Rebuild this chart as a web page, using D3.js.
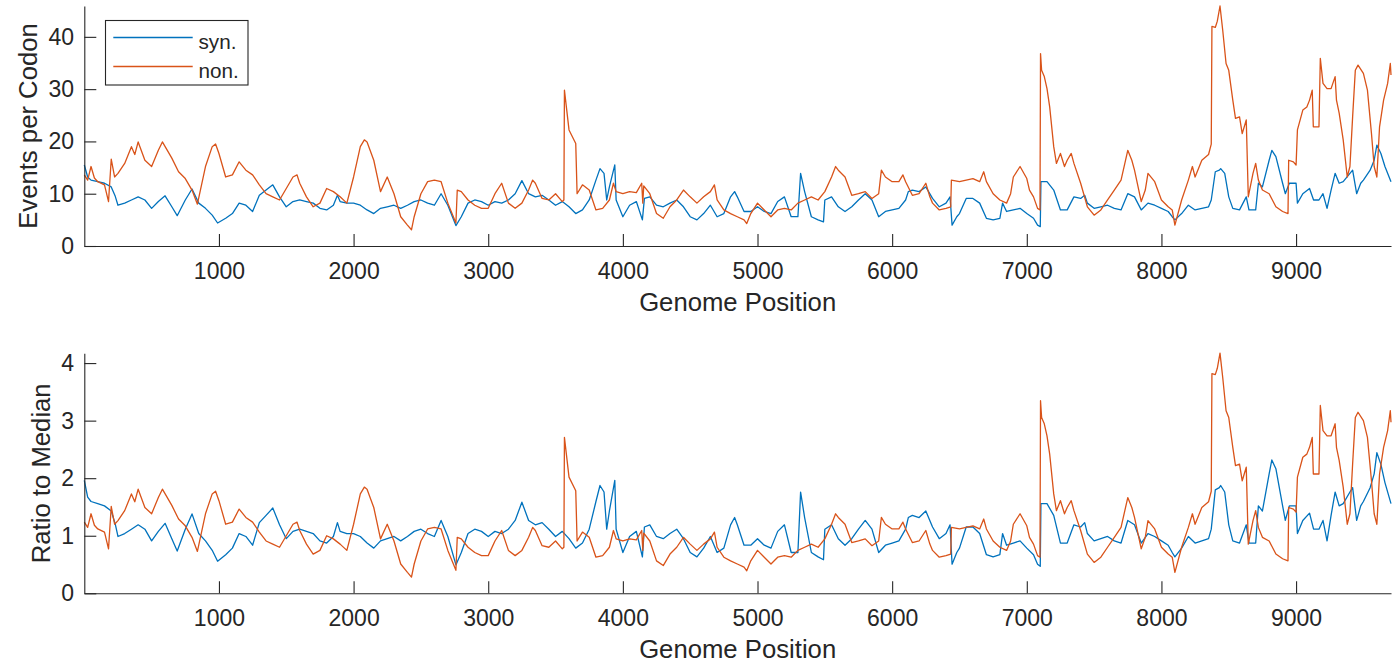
<!DOCTYPE html>
<html><head><meta charset="utf-8">
<script src="https://cdn.jsdelivr.net/npm/d3@7"></script>
<style>
body{margin:0;background:#fff;}
svg text{font-family:"Liberation Sans",Arial,Helvetica,sans-serif;fill:#262626;}
</style></head><body>
<svg id="chart" width="1400" height="671"></svg>
<script>
// [genome position, events per codon]
const synPoints = [[0,15.5],[25,13.2],[50,12.6],[100,12.3],[150,12.0],[200,11.3],[230,9.5],[250,7.8],[300,8.2],[350,8.8],[400,9.4],[450,8.8],[500,7.2],[550,8.5],[600,9.6],[650,7.5],[690,5.8],[750,8.8],[800,10.9],[850,8.2],[900,7.2],[950,5.9],[990,4.4],[1050,5.3],[1100,6.2],[1150,8.2],[1200,7.8],[1250,6.6],[1300,9.7],[1350,10.7],[1400,11.7],[1450,9.4],[1500,7.5],[1550,8.5],[1600,8.8],[1650,8.5],[1700,8.2],[1750,7.2],[1800,6.9],[1850,7.8],[1880,9.7],[1900,8.5],[1950,8.2],[2000,8.2],[2050,7.8],[2100,6.9],[2150,6.2],[2200,7.2],[2250,7.5],[2300,7.8],[2350,7.2],[2400,7.8],[2450,8.5],[2500,8.8],[2550,8.2],[2600,7.8],[2650,10.0],[2700,7.8],[2760,3.9],[2800,5.6],[2850,8.2],[2900,8.8],[2950,8.5],[3000,7.8],[3050,8.5],[3100,8.2],[3150,8.8],[3200,10.0],[3250,12.5],[3300,10.0],[3350,9.4],[3400,9.7],[3450,8.8],[3500,7.8],[3550,8.5],[3600,7.5],[3650,6.2],[3700,6.9],[3750,8.8],[3800,12.6],[3830,14.8],[3860,13.9],[3880,8.8],[3900,11.3],[3940,15.5],[3950,8.8],[4000,5.6],[4050,7.8],[4100,8.5],[4145,5.0],[4160,9.1],[4200,9.4],[4250,7.8],[4300,7.5],[4350,8.2],[4400,8.8],[4450,7.5],[4500,5.6],[4550,5.0],[4600,6.2],[4650,7.8],[4700,5.6],[4750,6.2],[4800,9.4],[4830,10.4],[4850,9.4],[4900,6.6],[4950,6.6],[5000,7.5],[5050,6.6],[5100,6.2],[5150,8.5],[5200,9.4],[5250,5.6],[5300,5.6],[5320,13.9],[5350,10.4],[5400,5.6],[5450,5.0],[5490,4.6],[5500,8.8],[5550,9.4],[5600,7.5],[5650,6.6],[5700,7.5],[5750,8.8],[5800,10.0],[5850,8.8],[5900,5.6],[5950,6.6],[6000,6.9],[6050,7.2],[6100,8.8],[6120,10.4],[6150,10.7],[6200,10.4],[6250,11.3],[6300,9.1],[6350,7.5],[6400,8.2],[6430,9.4],[6445,4.0],[6480,5.6],[6500,6.2],[6550,9.1],[6600,9.1],[6650,8.2],[6700,5.3],[6750,5.0],[6800,5.3],[6820,8.2],[6850,6.6],[6900,6.9],[6950,7.2],[7000,6.2],[7050,5.3],[7080,4.0],[7100,3.7],[7105,12.3],[7150,12.3],[7200,10.7],[7250,6.9],[7300,6.9],[7350,9.4],[7400,9.1],[7430,9.7],[7450,8.2],[7500,7.2],[7550,7.5],[7600,7.8],[7650,7.2],[7700,6.9],[7750,10.0],[7800,9.4],[7850,6.9],[7900,8.2],[7950,7.8],[8000,7.2],[8050,6.6],[8080,5.6],[8100,5.0],[8150,6.2],[8200,7.8],[8250,6.9],[8300,7.2],[8350,7.5],[8370,8.8],[8400,14.2],[8430,14.5],[8440,14.8],[8470,13.9],[8500,9.4],[8530,7.2],[8580,6.9],[8630,9.4],[8650,6.9],[8700,6.9],[8720,12.0],[8750,11.3],[8800,16.4],[8820,18.3],[8850,17.1],[8900,12.0],[8920,10.0],[8950,12.0],[9000,12.0],[9010,8.2],[9050,10.0],[9100,11.0],[9130,8.8],[9170,8.8],[9200,10.0],[9230,7.2],[9260,10.7],[9290,13.9],[9320,12.0],[9350,12.3],[9400,13.9],[9420,14.5],[9450,10.0],[9480,12.0],[9500,12.6],[9550,14.5],[9580,16.4],[9600,19.3],[9630,17.7],[9660,15.2],[9705,12.3]];

const nonPoints = [[0,13.6],[25,12.6],[50,15.2],[75,13.0],[100,12.3],[150,11.7],[180,8.5],[200,16.6],[225,13.2],[250,13.9],[300,15.8],[350,19.0],[375,17.5],[400,19.9],[450,16.4],[500,15.2],[550,18.3],[580,19.9],[650,16.8],[700,14.2],[750,12.9],[800,10.7],[840,8.0],[900,15.2],[950,19.0],[975,19.5],[1000,17.7],[1050,13.2],[1100,13.6],[1150,16.1],[1200,14.5],[1250,13.6],[1300,11.7],[1350,10.0],[1400,9.4],[1450,8.8],[1500,11.0],[1550,13.2],[1580,13.6],[1600,12.0],[1650,9.4],[1700,7.5],[1750,8.2],[1800,11.0],[1850,10.4],[1900,9.4],[1950,8.2],[2000,13.2],[2050,19.0],[2080,20.3],[2100,19.9],[2150,16.4],[2200,10.4],[2250,13.2],[2300,10.0],[2350,5.6],[2400,4.0],[2430,3.1],[2450,5.6],[2500,10.0],[2550,12.3],[2600,12.6],[2650,12.3],[2700,8.2],[2760,4.4],[2770,10.7],[2800,10.4],[2850,8.8],[2900,7.8],[2950,7.2],[3000,7.2],[3050,10.0],[3100,12.0],[3150,8.2],[3200,7.2],[3250,8.2],[3300,10.7],[3330,12.6],[3350,12.0],[3400,9.1],[3450,8.8],[3500,10.0],[3550,8.5],[3562,8.8],[3566,29.8],[3600,22.2],[3650,19.6],[3660,10.0],[3700,11.7],[3750,10.7],[3800,6.9],[3850,7.2],[3900,8.8],[3930,12.0],[3950,10.4],[4000,10.0],[4050,10.4],[4100,10.2],[4140,12.0],[4148,8.2],[4155,11.5],[4200,10.0],[4250,6.2],[4300,5.3],[4350,7.5],[4400,8.8],[4450,10.7],[4500,9.4],[4550,8.2],[4600,9.4],[4650,10.4],[4680,11.7],[4700,8.8],[4750,6.9],[4800,6.2],[4850,5.6],[4900,5.0],[4920,4.3],[4950,6.2],[5000,8.2],[5050,6.9],[5100,5.6],[5150,6.9],[5200,7.2],[5250,6.9],[5300,8.2],[5350,8.8],[5400,9.4],[5450,8.8],[5500,10.4],[5550,13.2],[5580,15.2],[5600,14.5],[5650,13.2],[5700,9.7],[5750,10.0],[5800,10.4],[5850,9.1],[5900,10.0],[5920,14.5],[5950,13.2],[6000,12.3],[6050,12.3],[6080,13.6],[6100,12.3],[6150,9.7],[6200,10.0],[6250,12.0],[6280,9.4],[6300,8.2],[6350,6.9],[6400,7.2],[6435,7.5],[6440,12.6],[6500,12.3],[6550,12.6],[6600,12.9],[6650,12.3],[6680,14.2],[6700,12.3],[6750,10.0],[6800,8.8],[6850,8.2],[6880,10.0],[6900,13.2],[6950,15.2],[7000,12.9],[7020,10.7],[7050,9.4],[7080,7.2],[7098,6.9],[7102,36.8],[7110,33.6],[7130,32.4],[7150,30.1],[7170,26.6],[7200,19.0],[7220,15.8],[7250,17.7],[7280,15.2],[7300,16.4],[7330,17.7],[7350,15.8],[7400,12.0],[7450,7.5],[7500,5.9],[7550,6.9],[7600,8.8],[7650,10.7],[7700,12.6],[7750,18.3],[7780,16.4],[7800,14.5],[7850,8.5],[7880,10.7],[7900,13.9],[7950,12.3],[8000,8.8],[8050,7.5],[8080,6.9],[8100,4.0],[8150,8.8],[8200,12.6],[8230,15.2],[8250,13.2],[8300,16.4],[8350,17.5],[8370,19.5],[8375,42.0],[8400,41.8],[8415,43.0],[8435,45.9],[8455,41.3],[8480,34.9],[8500,33.6],[8530,27.9],[8550,24.4],[8580,24.7],[8600,21.5],[8630,24.1],[8645,9.4],[8680,13.9],[8700,15.8],[8720,12.6],[8750,10.7],[8800,10.0],[8850,7.5],[8900,6.6],[8940,6.2],[8945,16.4],[8980,16.1],[9000,15.5],[9010,22.2],[9050,26.0],[9080,26.6],[9100,27.9],[9120,29.8],[9128,22.8],[9170,22.8],[9180,35.9],[9200,31.1],[9230,30.1],[9260,30.1],[9290,32.4],[9300,27.9],[9320,25.4],[9350,20.3],[9380,13.2],[9400,15.2],[9420,24.7],[9440,33.6],[9460,34.6],[9500,33.0],[9530,29.8],[9560,21.5],[9580,15.2],[9600,13.2],[9620,22.8],[9650,27.9],[9680,31.1],[9700,34.9],[9705,32.7]];

const synMedian = 7.9;   // median events per codon, syn.
const nonMedian = 11.0;  // median events per codon, non.
const seriesNames = ["syn.", "non."];
const seriesColors = ["#0072BD", "#D95319"];
const xTicks = [1000, 2000, 3000, 4000, 5000, 6000, 7000, 8000, 9000];
const topYTicks = [0, 10, 20, 30, 40];
const bottomYTicks = [0, 1, 2, 3, 4];
const xDomain = [0, 9705];

const svg = d3.select("#chart");
const axisColor = "#262626";
const fmt = d3.format("d");
const x = d3.scaleLinear().domain(xDomain).range([84.3, 1391]);

const panels = [
  {top: 6, bottom: 246, ymax: 45.9, ticks: topYTicks, ylabel: "Events per Codon", ylabelX: 36.5,
   divisors: [1, 1]},
  {top: 353.3, bottom: 593.3, ymax: 4.17, ticks: bottomYTicks, ylabel: "Ratio to Median", ylabelX: 49.5,
   divisors: [synMedian, nonMedian]}
];

panels.forEach((p, pi) => {
  const y = d3.scaleLinear().domain([0, p.ymax]).range([p.bottom, p.top]);
  const g = svg.append("g");
  const series = [synPoints, nonPoints];
  series.forEach((pts, si) => {
    const line = d3.line().x(d => x(d[0])).y(d => y(d[1] / p.divisors[si]));
    g.append("path").datum(pts).attr("d", line)
      .attr("fill", "none").attr("stroke", seriesColors[si])
      .attr("stroke-width", 1.3).attr("stroke-linejoin", "round");
  });

  const xa = g.append("g").attr("transform", `translate(0,${p.bottom})`)
    .call(d3.axisBottom(x).tickValues(xTicks).tickFormat(fmt).tickSizeInner(-12).tickSizeOuter(0).tickPadding(16.7));
  const ya = g.append("g").attr("transform", `translate(${x.range()[0]},0)`)
    .call(d3.axisLeft(y).tickValues(p.ticks).tickFormat(fmt).tickSizeInner(-12).tickSizeOuter(0).tickPadding(10.3));
  [xa, ya].forEach(a => {
    a.selectAll("path,line").attr("stroke", axisColor).attr("stroke-width", 1.1);
    a.selectAll("text").style("font-size", "23px").attr("fill", axisColor);
    a.attr("font-family", null);
  });

  g.append("text").attr("x", (x.range()[0] + x.range()[1]) / 2).attr("y", p.bottom + 65)
    .attr("text-anchor", "middle").style("font-size", "25.7px").text("Genome Position");
  g.append("text").attr("transform", `translate(${p.ylabelX},${(p.top + p.bottom) / 2}) rotate(-90)`)
    .attr("text-anchor", "middle").style("font-size", "25.7px").text(p.ylabel);

  if (pi === 0) {
    const lg = svg.append("g");
    lg.append("rect").attr("x", 105.5).attr("y", 20.5).attr("width", 142.5).attr("height", 64.5)
      .attr("fill", "#fff").attr("stroke", axisColor).attr("stroke-width", 1.1);
    seriesNames.forEach((nm, i) => {
      const ly = 37.5 + i * 29;
      lg.append("line").attr("x1", 113.3).attr("x2", 192.7).attr("y1", ly).attr("y2", ly)
        .attr("stroke", seriesColors[i]).attr("stroke-width", 1.3);
      lg.append("text").attr("x", 198.5).attr("y", ly + 11).style("font-size", "20.7px").text(nm);
    });
  }
});
</script>
</body></html>
